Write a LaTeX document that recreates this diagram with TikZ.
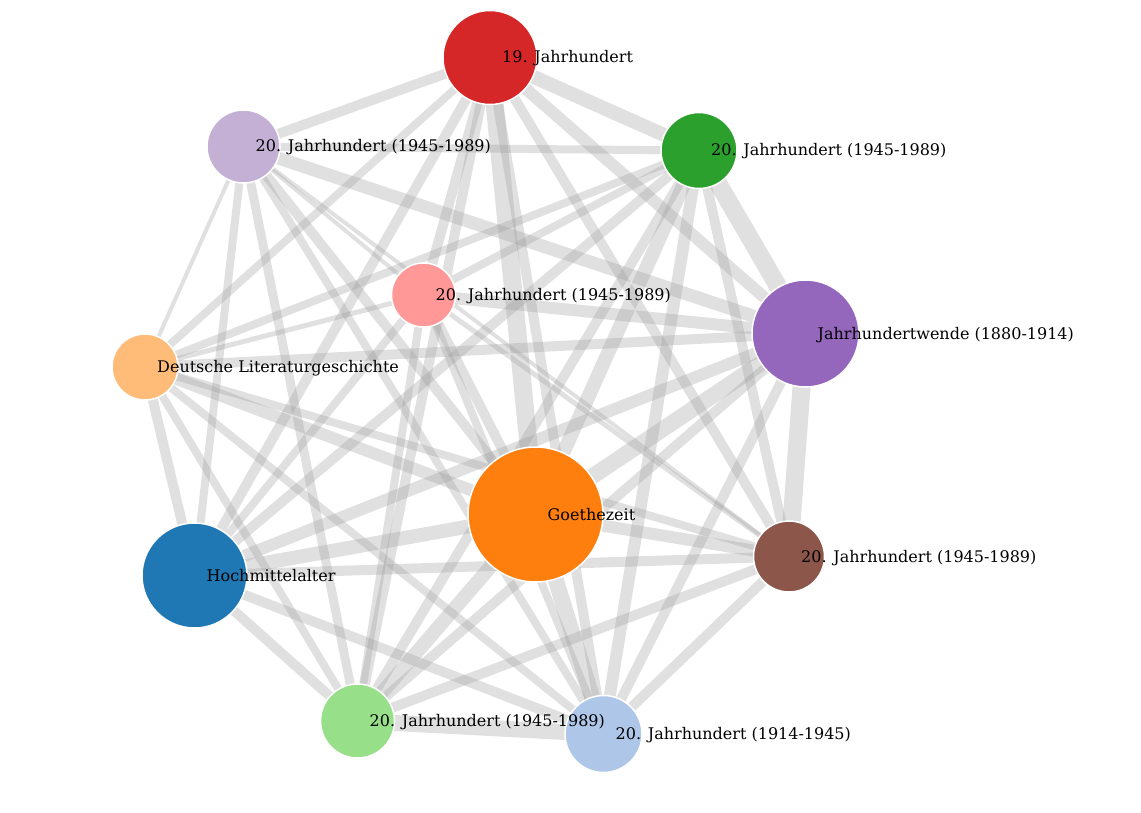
\documentclass[tikz,border=0pt]{standalone}
\usepackage{fontspec}
\setmainfont{DejaVu Serif}
\pgfdeclarelayer{bg}
\pgfsetlayers{bg,main}
\definecolor{cR}{HTML}{D62728}
\definecolor{cL}{HTML}{C5B0D5}
\definecolor{cG}{HTML}{2CA02C}
\definecolor{cP}{HTML}{FF9896}
\definecolor{cV}{HTML}{9467BD}
\definecolor{cO}{HTML}{FFBB78}
\definecolor{cZ}{HTML}{FF7F0E}
\definecolor{cH}{HTML}{1F77B4}
\definecolor{cB}{HTML}{8C564B}
\definecolor{cE}{HTML}{98DF8A}
\definecolor{cC}{HTML}{AEC7E8}
\definecolor{edgegray}{HTML}{999999}
\tikzset{
  dot/.style={circle, draw=white, line width=1.5pt, inner sep=0pt, minimum size=#1},
  lbl/.style={anchor=base west, inner sep=0pt, font=\fontsize{16}{19}\selectfont, text=black},
  link/.style={draw=edgegray, opacity=0.3, line width=#1},
}
\begin{document}
\begin{tikzpicture}[x=1pt,y=-1pt]
\useasboundingbox (0,0) rectangle (1141,813);
\node[dot=94pt,  fill=cR] (R) at (490,57.5) {};
\node[dot=73pt,  fill=cL] (L) at (243.5,146.5) {};
\node[dot=76pt,  fill=cG] (G) at (699,150.5) {};
\node[dot=64pt,  fill=cP] (P) at (423.5,295) {};
\node[dot=107pt, fill=cV] (V) at (805.5,333.5) {};
\node[dot=66pt,  fill=cO] (O) at (145,367) {};
\node[dot=135pt, fill=cZ] (Z) at (535.5,514.5) {};
\node[dot=105pt, fill=cH] (H) at (194.5,575.5) {};
\node[dot=71pt,  fill=cB] (B) at (789,556.5) {};
\node[dot=74pt,  fill=cE] (E) at (357.5,721) {};
\node[dot=77pt,  fill=cC] (C) at (603.5,734) {};
\begin{pgfonlayer}{bg}
\foreach \a/\b/\w in {
  R/L/10, R/G/14, R/P/10, R/V/12, R/O/8, R/Z/18, R/H/10, R/B/10, R/E/10, R/C/10,
  L/G/8, L/P/4, L/V/13, L/O/4, L/Z/10, L/H/8, L/B/4, L/E/9, L/C/8,
  G/P/8, G/V/18, G/O/8, G/Z/14, G/H/10, G/B/10, G/E/10, G/C/12,
  P/V/12, P/O/5, P/Z/10, P/H/8, P/B/5, P/E/8, P/C/8,
  V/O/10, V/Z/16, V/H/12, V/B/18, V/E/10, V/C/10,
  O/Z/12, O/H/10, O/B/8, O/E/8, O/C/8,
  Z/H/14, Z/B/12, Z/E/14, Z/C/16,
  H/B/10, H/E/10, H/C/10,
  B/E/10, B/C/10,
  E/C/16}
  \draw[link=\w pt] (\a.center) -- (\b.center);
\end{pgfonlayer}
\node[lbl] (Rl) at (502,63) {19. Jahrhundert};
\node[lbl] (Ll) at (255.5,152) {20. Jahrhundert (1945-1989)};
\node[lbl] (Gl) at (711,156) {20. Jahrhundert (1945-1989)};
\node[lbl] (Pl) at (435.5,300.6) {20. Jahrhundert (1945-1989)};
\node[lbl] (Vl) at (817.5,339) {Jahrhundertwende (1880-1914)};
\node[lbl] (Ol) at (157,372.6) {Deutsche Literaturgeschichte};
\node[lbl] (Zl) at (547.5,520) {Goethezeit};
\node[lbl] (Hl) at (206.5,581) {Hochmittelalter};
\node[lbl] (Bl) at (801,562) {20. Jahrhundert (1945-1989)};
\node[lbl] (El) at (369.5,726.6) {20. Jahrhundert (1945-1989)};
\node[lbl] (Cl) at (615.5,739.6) {20. Jahrhundert (1914-1945)};
\end{tikzpicture}
\end{document}
